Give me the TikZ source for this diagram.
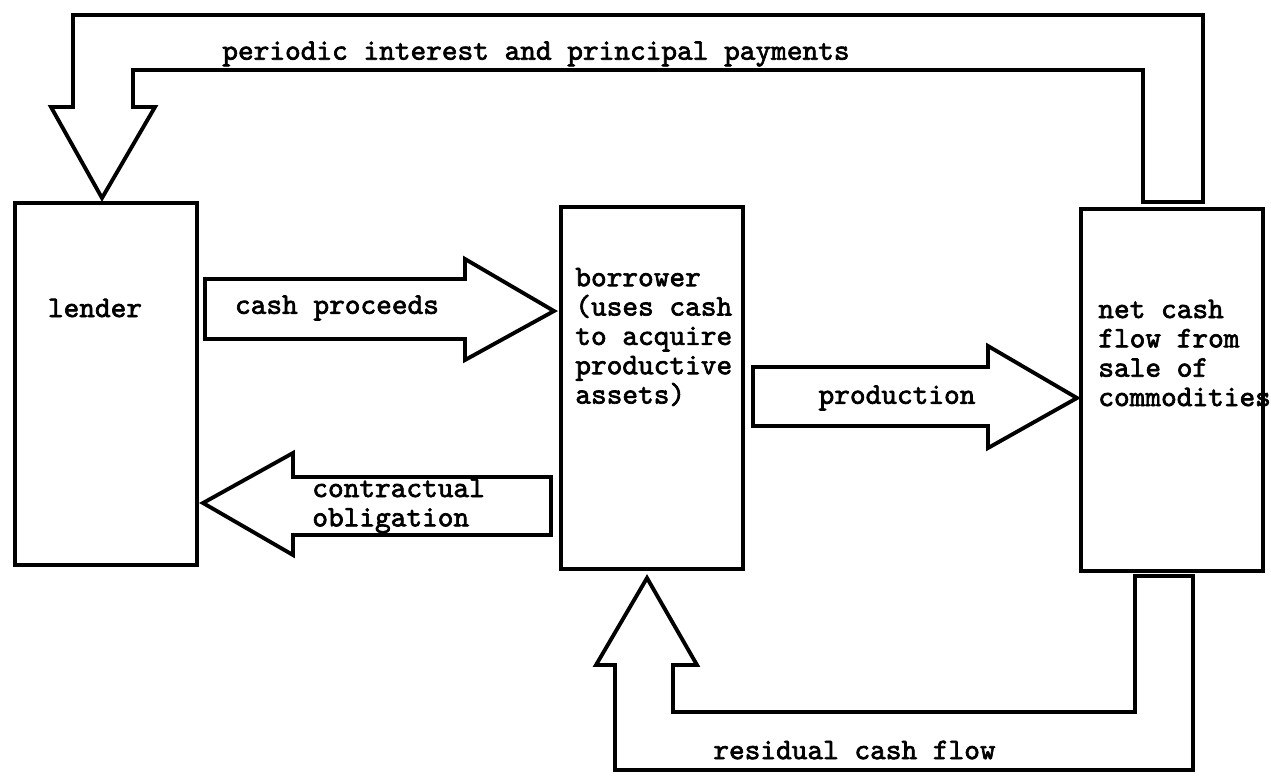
\documentclass[tikz,border=0pt]{standalone}
\usepackage{fontspec}
\newfontfamily\typefont{lmmono10-regular.otf}[FakeBold=2.2]

\tikzset{
  box/.style={draw, line width=2.4pt, inner sep=0pt, minimum width=3.64cm, minimum height=7.24cm},
  flow/.style={draw, line width=2.2pt, line join=miter},
  txt/.style={inner sep=0pt, align=left, font=\typefont\fontsize{17}{16.7}\selectfont},
}

\begin{document}
\begin{tikzpicture}[x=0.02cm, y=-0.02cm]
  \useasboundingbox (0,0) rectangle (1271,781);

  % the three parties
  \node [box] (lender) at (106,384) {};
  \node [box] (borrower) at (652,388) {};
  \node [box] (netcash) at (1172,390) {};

  \node [txt] (lendertext) at (95,308) {lender};
  \node [txt, anchor=west] (borrowertext) at (575,337)
    {borrower\\(uses cash\\to acquire\\productive\\assets)};
  \node [txt, anchor=west] (netcashtext) at (1098,353)
    {net cash\\flow from\\sale of\\commodities};

  % cash proceeds
  \draw [flow] (205,279) -- (465,279) -- (465,259) -- (554,311)
    -- (465,360) -- (465,339) -- (205,339) -- cycle;
  \node [txt] (proceeds) at (337,308) {cash proceeds};

  % contractual obligation
  \draw [flow] (203,503) -- (293,453) -- (293,477) -- (551,477)
    -- (551,535) -- (293,535) -- (293,555) -- cycle;
  \node [txt, anchor=west] (obligation) at (312,506) {contractual\\obligation};

  % production
  \draw [flow] (753,367) -- (988,367) -- (988,346) -- (1077,398)
    -- (988,448) -- (988,426) -- (753,426) -- cycle;
  \node [txt] (production) at (897,398) {production};

  % payments back to the lender
  \draw [flow] (102,198) -- (155,107) -- (133,107) -- (133,70) -- (1143,70)
    -- (1143,202) -- (1203,202) -- (1203,15) -- (73,15) -- (73,107)
    -- (51,107) -- cycle;
  \node [txt, anchor=west] (payments) at (222,54) {periodic interest and principal payments};

  % residual cash flow
  \draw [flow] (647,578) -- (697,665) -- (673,665) -- (673,712) -- (1135,712)
    -- (1135,576) -- (1193,576) -- (1193,770) -- (615,770) -- (615,665)
    -- (596,665) -- cycle;
  \node [txt, anchor=west] (residual) at (713,750) {residual cash flow};
\end{tikzpicture}
\end{document}
